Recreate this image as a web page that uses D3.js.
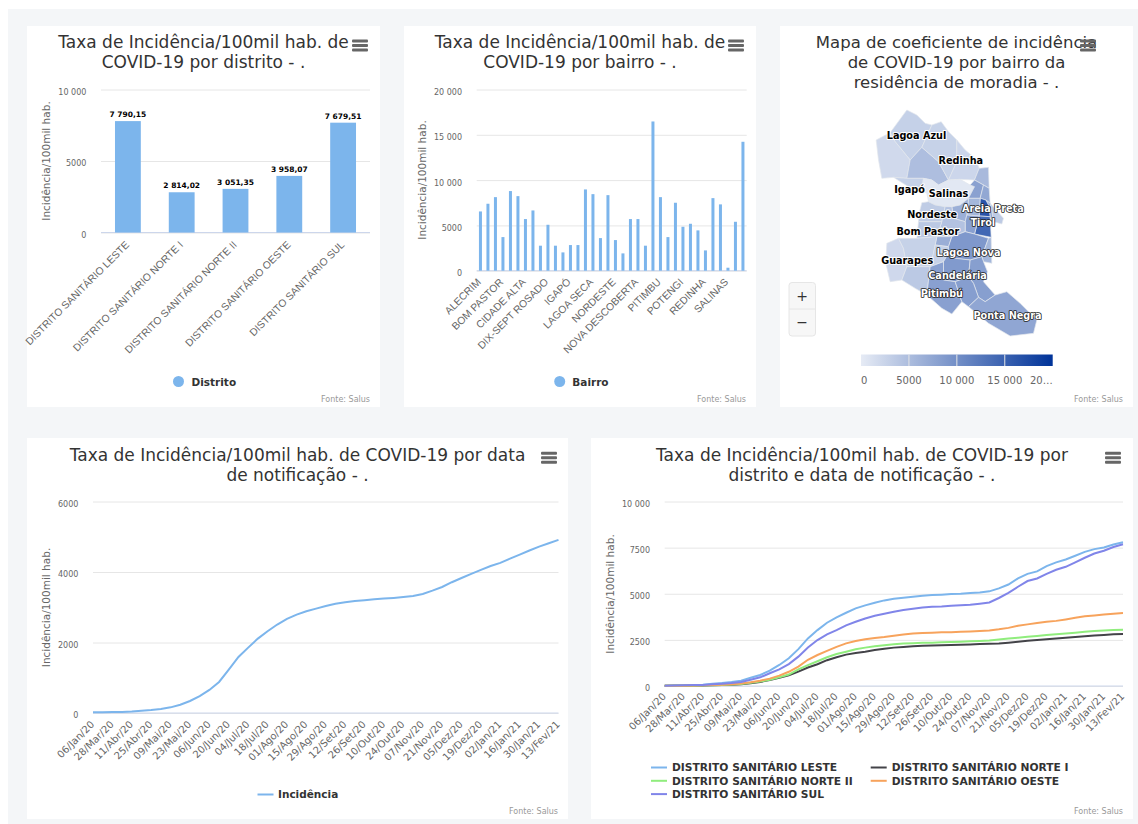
<!DOCTYPE html>
<html>
<head>
<meta charset="utf-8">
<title>Taxa de Incidência COVID-19</title>
<style>
body { margin: 0; background: #fff; }
svg { display: block; }
text { font-family: "DejaVu Sans", sans-serif; }
.xlab { font-family: "Liberation Sans", sans-serif; fill: #666; font-size: 10.3px; }
.ylab { fill: #666; font-size: 8px; }
.ytitle { fill: #666; font-size: 10.5px; }
.title { fill: #333; font-size: 17px; }
.legend { fill: #333; font-size: 10.5px; font-weight: bold; }
.credit { fill: #999; font-size: 8px; }
.halo { paint-order: stroke; stroke: #fff; stroke-width: 2px; stroke-linejoin: round; }
</style>
</head>
<body>
<div id="vis"></div>
<script src="https://cdn.jsdelivr.net/npm/d3@7"></script>
<script>

var distritos = ["DISTRITO SANITÁRIO LESTE", "DISTRITO SANITÁRIO NORTE I", "DISTRITO SANITÁRIO NORTE II", "DISTRITO SANITÁRIO OESTE", "DISTRITO SANITÁRIO SUL"];
var distritoValores = [7790.15, 2814.02, 3051.35, 3958.07, 7679.51];

var bairros = ["ALECRIM", "AREIA PRETA", "BARRO VERMELHO", "BOM PASTOR", "CANDELÁRIA", "CAPIM MACIO", "CIDADE ALTA", "CIDADE DA ESPERANÇA", "CIDADE NOVA", "DIX-SEPT ROSADO", "FELIPE CAMARÃO", "GUARAPES", "IGAPÓ", "LAGOA AZUL", "LAGOA NOVA", "LAGOA SECA", "MÃE LUIZA", "NEÓPOLIS", "NORDESTE", "NOSSA SENHORA DA APRESENTAÇÃO", "NOSSA SENHORA DE NAZARÉ", "NOVA DESCOBERTA", "PAJUÇARA", "PETRÓPOLIS", "PITIMBU", "PLANALTO", "PONTA NEGRA", "POTENGI", "PRAIA DO MEIO", "QUINTAS", "REDINHA", "RIBEIRA", "ROCAS", "SALINAS", "SANTOS REIS", "TIROL"];
var bairroValores = [6540, 7390, 8120, 3710, 8790, 8230, 5700, 6650, 2760, 5070, 2760, 2020, 2830, 2830, 8970, 8450, 3600, 8340, 3380, 1910, 5700, 5700, 2760, 16470, 8120, 3710, 7500, 4850, 5180, 4450, 2240, 8010, 7320, 330, 5400, 14230];

var datas = ["06/Jan/20", "21/Mar/20", "28/Mar/20", "04/Abr/20", "11/Abr/20", "18/Abr/20", "25/Abr/20", "02/Mai/20", "09/Mai/20", "16/Mai/20", "23/Mai/20", "30/Mai/20", "06/Jun/20", "13/Jun/20", "20/Jun/20", "27/Jun/20", "04/Jul/20", "11/Jul/20", "18/Jul/20", "25/Jul/20", "01/Ago/20", "08/Ago/20", "15/Ago/20", "22/Ago/20", "29/Ago/20", "05/Set/20", "12/Set/20", "19/Set/20", "26/Set/20", "03/Out/20", "10/Out/20", "17/Out/20", "24/Out/20", "31/Out/20", "07/Nov/20", "14/Nov/20", "21/Nov/20", "28/Nov/20", "05/Dez/20", "12/Dez/20", "19/Dez/20", "26/Dez/20", "02/Jan/21", "09/Jan/21", "16/Jan/21", "23/Jan/21", "30/Jan/21", "06/Fev/21", "13/Fev/21"];

var incidencia = [20, 22, 25, 30, 40, 65, 85, 115, 160, 235, 340, 480, 655, 880, 1230, 1590, 1855, 2110, 2320, 2510, 2670, 2790, 2885, 2960, 3035, 3100, 3140, 3180, 3200, 3225, 3245, 3265, 3290, 3320, 3375, 3470, 3575, 3710, 3830, 3945, 4060, 4170, 4260, 4380, 4495, 4610, 4720, 4815, 4910];

var leste = [20, 35, 35, 55, 70, 125, 160, 215, 290, 450, 595, 830, 1140, 1500, 2000, 2580, 3030, 3430, 3720, 3970, 4210, 4370, 4510, 4640, 4730, 4780, 4840, 4890, 4930, 4950, 4980, 5000, 5040, 5070, 5130, 5290, 5500, 5830, 6080, 6210, 6500, 6700, 6860, 7060, 7270, 7420, 7510, 7670, 7790];
var norte1 = [10, 15, 20, 25, 30, 40, 50, 70, 100, 150, 220, 320, 440, 580, 780, 1000, 1180, 1400, 1560, 1700, 1790, 1860, 1950, 2020, 2080, 2120, 2160, 2180, 2200, 2210, 2220, 2240, 2250, 2270, 2290, 2310, 2350, 2400, 2450, 2490, 2530, 2580, 2620, 2660, 2700, 2740, 2770, 2800, 2814];
var norte2 = [10, 15, 20, 25, 35, 45, 55, 75, 110, 170, 240, 340, 470, 620, 900, 1130, 1340, 1560, 1730, 1860, 1990, 2080, 2160, 2210, 2260, 2300, 2320, 2340, 2350, 2370, 2380, 2400, 2420, 2440, 2470, 2520, 2570, 2620, 2670, 2710, 2760, 2800, 2840, 2890, 2940, 2980, 3010, 3030, 3050];
var oeste = [10, 15, 20, 30, 40, 50, 65, 90, 130, 200, 290, 400, 560, 770, 1050, 1420, 1680, 1900, 2120, 2310, 2440, 2530, 2600, 2650, 2720, 2790, 2840, 2870, 2890, 2910, 2920, 2940, 2960, 2980, 3010, 3070, 3150, 3260, 3340, 3420, 3480, 3530, 3610, 3700, 3780, 3820, 3870, 3920, 3960];
var sul = [20, 30, 35, 50, 60, 90, 125, 160, 215, 340, 470, 690, 900, 1190, 1590, 2090, 2490, 2800, 3030, 3290, 3480, 3660, 3810, 3920, 4030, 4120, 4190, 4260, 4300, 4310, 4350, 4370, 4400, 4460, 4530, 4770, 5050, 5380, 5690, 5830, 6080, 6300, 6460, 6700, 6950, 7180, 7330, 7530, 7680];
var seriesNomes = distritos;
var seriesValores = [leste, norte1, norte2, oeste, sul];
var seriesCores = ["#7cb5ec", "#434348", "#90ed7d", "#f7a35c", "#8085e9"];

// contornos dos bairros, em unidades do mapa
var bairroContornos = {
  "LAGOA AZUL": [[395,60],[425,75],[450,100],[470,105],[440,172],[405,210],[360,155],[345,128]],
  "NOSSA SENHORA DA APRESENTAÇÃO": [[345,128],[360,155],[405,210],[395,265],[355,262],[320,265],[310,210],[303,150]],
  "POTENGI": [[440,172],[490,215],[520,270],[490,285],[470,270],[445,265],[395,265],[405,210]],
  "PAJUÇARA": [[470,105],[498,95],[520,125],[545,150],[545,215],[520,270],[490,215],[440,172]],
  "REDINHA": [[545,150],[570,180],[600,205],[612,235],[598,270],[555,268],[520,270],[545,215]],
  "SANTOS REIS": [[612,235],[640,232],[642,295],[625,285],[598,270]],
  "IGAPÓ": [[355,262],[395,265],[445,265],[440,300],[400,290]],
  "SALINAS": [[445,265],[470,270],[490,285],[520,270],[555,268],[585,285],[598,290],[580,325],[555,345],[510,350],[480,345],[460,335],[455,310],[440,300]],
  "RIBEIRA": [[598,270],[625,285],[615,325],[580,325],[598,290],[585,285]],
  "ROCAS": [[625,285],[642,295],[645,340],[632,330],[615,325]],
  "MÃE LUIZA": [[645,340],[685,385],[680,402],[655,395],[650,365]],
  "AREIA PRETA": [[632,330],[645,340],[650,365],[655,395],[645,380],[640,345]],
  "PETRÓPOLIS": [[615,325],[632,330],[640,345],[645,380],[612,378]],
  "TIROL": [[612,378],[645,380],[648,442],[598,432]],
  "CIDADE ALTA": [[580,325],[615,325],[612,378],[575,375]],
  "ALECRIM": [[530,350],[555,345],[580,325],[575,375],[570,395],[535,385]],
  "BARRO VERMELHO": [[575,375],[612,378],[598,432],[570,425],[570,395]],
  "NORDESTE": [[440,338],[460,335],[480,345],[510,350],[500,395],[430,395],[432,370]],
  "QUINTAS": [[510,350],[530,350],[535,385],[570,395],[570,425],[530,440],[495,410],[500,395]],
  "DIX-SEPT ROSADO": [[495,410],[530,440],[485,440]],
  "CIDADE DA ESPERANÇA": [[485,440],[530,440],[520,470],[480,465]],
  "BOM PASTOR": [[430,395],[500,395],[495,410],[485,440],[425,445]],
  "GUARAPES": [[335,460],[370,445],[385,475],[395,530],[380,570],[345,575],[332,520]],
  "FELIPE CAMARÃO": [[370,445],[425,445],[485,440],[480,465],[475,490],[465,530],[395,530],[385,475]],
  "PLANALTO": [[395,530],[465,530],[455,615],[420,595],[380,570]],
  "CIDADE NOVA": [[480,465],[520,470],[520,490],[505,515],[465,530],[475,490]],
  "LAGOA NOVA": [[530,440],[570,425],[598,432],[640,445],[620,500],[585,510],[540,505],[520,490],[520,470]],
  "NOVA DESCOBERTA": [[640,445],[648,442],[650,520],[625,515],[620,500]],
  "CANDELÁRIA": [[505,515],[520,490],[540,505],[585,510],[580,560],[540,575],[505,570]],
  "CAPIM MACIO": [[585,510],[620,500],[625,515],[637,545],[625,575],[660,615],[630,635],[610,622],[595,580],[580,560]],
  "PITIMBU": [[465,530],[505,515],[505,570],[540,575],[560,635],[530,672],[500,655],[455,615]],
  "NEÓPOLIS": [[540,575],[580,560],[595,580],[610,622],[580,650],[560,635]],
  "PONTA NEGRA": [[660,615],[695,605],[735,640],[785,690],[775,730],[705,738],[640,700],[580,650],[610,622],[630,635]]
};

var mapaRotulos = ["Lagoa Azul", "Redinha", "Igapó", "Salinas", "Nordeste", "Bom Pastor", "Guarapes", "Areia Preta", "Tirol", "Lagoa Nova", "Candelária", "Pitimbú", "Ponta Negra"];
var mapaRotuloPos = [[424,138],[557,212],[403,298],[520,310],[471,375],[458,424],[396,513],[653,355],[623,398],[580,487],[547,556],[500,610],[697,676]];
var mapaRotuloClaro = [false, false, false, false, false, false, false, true, true, true, true, true, true];

var ptBR = d3.formatLocale({decimal: ",", thousands: " ", grouping: [3], currency: ["R$", ""]});
var fmt2 = ptBR.format(",.2f"), fmtMil = ptBR.format(",d");
function fmtEixo(d) { return d >= 10000 ? fmtMil(d) : String(d); }

var svg = d3.select("#vis").append("svg").attr("width", 1138).attr("height", 824);

// fundo cinza da pagina
svg.append("rect").attr("x", 8).attr("y", 9).attr("width", 1130).attr("height", 815).attr("fill", "#f4f6f8");

function painel(x0, y0, x1, y1) {
  svg.append("rect").attr("x", x0).attr("y", y0).attr("width", x1 - x0).attr("height", y1 - y0).attr("fill", "#fff");
}

function titulo(linhas, cx, y, tamanho) {
  linhas.forEach(function(t, i) {
    var el = svg.append("text").attr("class", "title").attr("x", cx).attr("y", y + i * 20).attr("text-anchor", "middle").text(t);
    if (tamanho) el.style("font-size", tamanho);
  });
}

function menu(x, y) {
  [0, 4.5, 9].forEach(function(dy) {
    svg.append("rect").attr("x", x).attr("y", y + dy).attr("width", 16).attr("height", 3).attr("rx", 1).attr("fill", "#666");
  });
}

function fonte(xr, y) {
  svg.append("text").attr("class", "credit").attr("x", xr).attr("y", y).attr("text-anchor", "end").text("Fonte: Salus");
}

function eixoY(y, ticks, x0, x1, tx, cy) {
  var g = svg.append("g").attr("transform", "translate(" + x0 + ",0)");
  g.call(d3.axisLeft(y).tickValues(ticks).tickSize(-(x1 - x0)).tickPadding(14.7).tickFormat(fmtEixo));
  g.select(".domain").remove();
  g.selectAll("line").attr("stroke", "#e6e6e6");
  g.selectAll("text").attr("class", "ylab").attr("fill", null).attr("dy", "0.62em").attr("y", 0);
  svg.append("line").attr("x1", x0).attr("x2", x1).attr("y1", y(0)).attr("y2", y(0)).attr("stroke", "#ccd6eb");
  svg.append("text").attr("class", "ytitle").attr("text-anchor", "middle")
    .attr("transform", "translate(" + tx + "," + cy + ") rotate(-90)").text("Incidência/100mil hab.");
}

function eixoX(scale, valores, yBase, dx, dy, classe) {
  svg.append("g").selectAll("text").data(valores).enter().append("text")
    .attr("class", classe)
    .attr("text-anchor", "end")
    .attr("transform", function(d) {
      var px = scale(d) + (scale.bandwidth ? scale.bandwidth() / 2 : 0) + dx;
      return "translate(" + px + "," + (yBase + dy) + ") rotate(-45)";
    })
    .text(function(d) { return d; });
}

// barras por distrito
painel(27, 26, 380, 407);
titulo(["Taxa de Incidência/100mil hab. de", "COVID-19 por distrito - ."], 203.5, 48);
menu(352, 39.5);
var y1 = d3.scaleLinear().domain([0, 10000]).range([232.5, 89.5]);
eixoY(y1, [0, 5000, 10000], 101, 370, 50, 161);
var x1 = d3.scaleBand().domain(distritos).range([101, 370]).paddingInner(0.52).paddingOuter(0.26);
svg.append("g").selectAll("rect").data(distritoValores).enter().append("rect")
  .attr("x", function(d, i) { return x1(distritos[i]); })
  .attr("width", x1.bandwidth())
  .attr("y", function(d) { return y1(d); })
  .attr("height", function(d) { return y1(0) - y1(d); })
  .attr("fill", "#7cb5ec");
svg.append("g").selectAll("text").data(distritoValores).enter().append("text")
  .attr("class", "halo")
  .attr("x", function(d, i) { return x1(distritos[i]) + x1.bandwidth() / 2; })
  .attr("y", function(d) { return y1(d) - 4; })
  .attr("text-anchor", "middle")
  .attr("font-size", "7.5px").attr("font-weight", "bold").attr("fill", "#000")
  .text(function(d) { return fmt2(d); });
eixoX(x1, distritos, 232.5, 2, 13, "xlab");
svg.append("circle").attr("cx", 178.5).attr("cy", 381.5).attr("r", 5.5).attr("fill", "#7cb5ec");
svg.append("text").attr("class", "legend").attr("x", 191.5).attr("y", 385.5).text("Distrito");
fonte(370, 402);

// barras por bairro
painel(404, 26, 756, 407);
titulo(["Taxa de Incidência/100mil hab. de", "COVID-19 por bairro - ."], 580, 48);
menu(728, 39.5);
var y2 = d3.scaleLinear().domain([0, 20000]).range([270.7, 89.5]);
eixoY(y2, [0, 5000, 10000, 15000, 20000], 476.7, 746.7, 426, 180);
var x2 = d3.scaleBand().domain(bairros).range([476.7, 746.7]).paddingInner(0.6).paddingOuter(0.3);
svg.append("g").selectAll("rect").data(bairroValores).enter().append("rect")
  .attr("x", function(d, i) { return x2(bairros[i]); })
  .attr("width", x2.bandwidth())
  .attr("y", function(d) { return y2(d); })
  .attr("height", function(d) { return y2(0) - y2(d); })
  .attr("fill", "#7cb5ec");
eixoX(x2, bairros.filter(function(d, i) { return i % 3 == 0; }), 270.7, 1, 12, "xlab");
svg.append("circle").attr("cx", 559.7).attr("cy", 381.5).attr("r", 5.5).attr("fill", "#7cb5ec");
svg.append("text").attr("class", "legend").attr("x", 572.3).attr("y", 385.5).text("Bairro");
fonte(746, 402);

// mapa
painel(780, 26, 1133, 407);
titulo(["Mapa de coeficiente de incidência", "de COVID-19 por bairro da", "residência de moradia - ."], 956.5, 48, "16.5px");
menu(1080, 39.5);
var corMapa = d3.scaleLinear().domain([0, 20000]).range(["#e6ebf5", "#003399"]);
var feicoes = Object.keys(bairroContornos).map(function(nome) {
  var anel = bairroContornos[nome];
  // o anel precisa fechar no primeiro ponto
  return {type: "Feature", properties: {nome: nome}, geometry: {type: "Polygon", coordinates: [anel.concat([anel[0]])]}};
});
var projecao = d3.geoIdentity().fitExtent([[876, 110], [1037, 336]], {type: "FeatureCollection", features: feicoes});
var caminho = d3.geoPath(projecao);
svg.append("g").selectAll("path").data(feicoes).enter().append("path")
  .attr("d", caminho)
  .attr("fill", function(d) { return corMapa(bairroValores[bairros.indexOf(d.properties.nome)]); })
  .attr("stroke", "#e3e6ec").attr("stroke-width", 0.7);
svg.append("g").selectAll("text").data(mapaRotulos).enter().append("text")
  .attr("transform", function(d, i) { var p = projecao(mapaRotuloPos[i]); return "translate(" + p[0] + "," + p[1] + ")"; })
  .attr("dy", "0.35em")
  .attr("text-anchor", "middle")
  .attr("font-size", "9.7px").attr("font-weight", "bold")
  .style("paint-order", "stroke").attr("stroke-linejoin", "round")
  .attr("fill", function(d, i) { return mapaRotuloClaro[i] ? "#fff" : "#000"; })
  .attr("stroke", function(d, i) { return mapaRotuloClaro[i] ? "#222" : "#fff"; })
  .attr("stroke-width", function(d, i) { return mapaRotuloClaro[i] ? 1.6 : 2; })
  .text(function(d) { return d; });

// botoes de zoom
svg.append("rect").attr("x", 789).attr("y", 282.5).attr("width", 26.5).attr("height", 53.5).attr("rx", 3)
  .attr("fill", "#f7f7f7").attr("stroke", "#e6e6e6");
svg.append("line").attr("x1", 789).attr("x2", 815.5).attr("y1", 309).attr("y2", 309).attr("stroke", "#e6e6e6");
svg.append("text").attr("x", 802.2).attr("y", 301).attr("text-anchor", "middle").attr("font-size", "14px").attr("fill", "#333").text("+");
svg.append("text").attr("x", 802.2).attr("y", 327).attr("text-anchor", "middle").attr("font-size", "14px").attr("fill", "#333").text("−");

// legenda do mapa
var legendaMapa = d3.scaleLinear().domain([0, 20000]).range([861, 1052.7]);
var grad = svg.append("defs").append("linearGradient").attr("id", "gradMapa");
grad.append("stop").attr("offset", "0%").attr("stop-color", "#e6ebf5");
grad.append("stop").attr("offset", "100%").attr("stop-color", "#003399");
svg.append("rect").attr("x", legendaMapa(0)).attr("y", 354.5).attr("width", legendaMapa(20000) - legendaMapa(0)).attr("height", 11.5).attr("fill", "url(#gradMapa)");
[5000, 10000, 15000].forEach(function(d) {
  svg.append("line").attr("x1", legendaMapa(d)).attr("x2", legendaMapa(d)).attr("y1", 354.5).attr("y2", 366).attr("stroke", "#e6e6e6");
});
[[0, "0", "start"], [5000, "5000", "middle"], [10000, "10 000", "middle"], [15000, "15 000", "middle"], [20000, "20…", "end"]].forEach(function(d) {
  svg.append("text").attr("x", legendaMapa(d[0])).attr("y", 384).attr("text-anchor", d[2]).attr("font-size", "10px").attr("fill", "#666").text(d[1]);
});
fonte(1123, 402);

// linha geral
var linha = function(x, y) {
  return d3.line().x(function(d, i) { return x(datas[i]); }).y(function(d) { return y(d); });
};
var datasMarcadas = datas.filter(function(d, i) { return i % 2 == 0; });

painel(27, 438, 568, 819);
titulo(["Taxa de Incidência/100mil hab. de COVID-19 por data", "de notificação - ."], 297.5, 460.5);
menu(541, 451.7);
var y4 = d3.scaleLinear().domain([0, 6000]).range([713, 501.5]);
eixoY(y4, [0, 2000, 4000, 6000], 93, 558.5, 50, 607.5);
var x4 = d3.scalePoint().domain(datas).range([93, 558.5]);
svg.append("path").datum(incidencia).attr("d", linha(x4, y4)).attr("fill", "none").attr("stroke", "#7cb5ec").attr("stroke-width", 2);
eixoX(x4, datasMarcadas, 713, 2, 12, "ylab xdata");
svg.append("line").attr("x1", 257.5).attr("x2", 273.5).attr("y1", 794.5).attr("y2", 794.5).attr("stroke", "#7cb5ec").attr("stroke-width", 2);
svg.append("text").attr("class", "legend").attr("x", 278).attr("y", 798).text("Incidência");
fonte(558, 814);

// linhas por distrito
painel(591, 438, 1133, 819);
titulo(["Taxa de Incidência/100mil hab. de COVID-19 por", "distrito e data de notificação - ."], 862, 460.5);
menu(1105, 451.7);
var y5 = d3.scaleLinear().domain([0, 10000]).range([686, 501.5]);
eixoY(y5, [0, 2500, 5000, 7500, 10000], 664.7, 1123, 614, 594);
var x5 = d3.scalePoint().domain(datas).range([664.7, 1123]);
seriesValores.forEach(function(v, i) {
  svg.append("path").datum(v).attr("d", linha(x5, y5)).attr("fill", "none").attr("stroke", seriesCores[i]).attr("stroke-width", 2);
});
eixoX(x5, datasMarcadas, 686, 2, 11, "ylab xdata");
seriesNomes.forEach(function(nome, i) {
  var lx = i % 2 == 0 ? 651 : 870.7, ly = 767.5 + Math.floor(i / 2) * 13.3;
  svg.append("line").attr("x1", lx).attr("x2", lx + 16).attr("y1", ly).attr("y2", ly).attr("stroke", seriesCores[i]).attr("stroke-width", 2);
  svg.append("text").attr("class", "legend").attr("x", lx + 21).attr("y", ly + 3.7).style("font-size", "10.7px").text(nome);
});
fonte(1123, 814);

d3.selectAll(".xdata").style("font-size", "10px");

</script>
</body>
</html>
